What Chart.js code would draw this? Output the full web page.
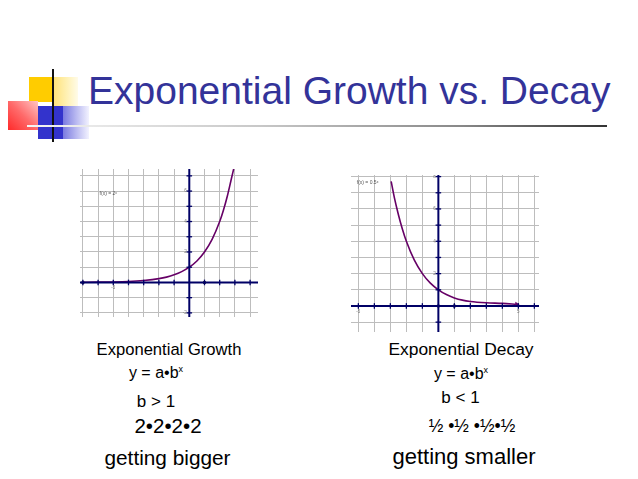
<!DOCTYPE html>
<html>
<head>
<meta charset="utf-8">
<script src="https://cdn.jsdelivr.net/npm/chart.js@4.4.1/dist/chart.umd.min.js"></script>
<style>
html,body{margin:0;padding:0;background:#fff;width:638px;height:479px;overflow:hidden;}
.box{position:absolute;}
.t{position:absolute;font-family:Arial,"Liberation Sans",sans-serif;color:#000;white-space:nowrap;line-height:1;}
.sup{position:relative;top:-6px;font-size:9px;}
</style>
</head>
<body>
<!-- title decorations -->
<div class="box" style="left:29px;top:77px;width:24px;height:25px;background:#ffcc00;"></div>
<div class="box" style="left:53px;top:77px;width:25px;height:31px;background:linear-gradient(90deg,#ffe070 0%,#fff0b0 55%,#fffbe8 100%);opacity:0.95;"></div>
<div class="box" style="left:8px;top:101px;width:30px;height:29px;background:linear-gradient(45deg,#ff2a2a 0%,#ff6a6a 50%,#ffc4c4 100%);"></div>
<div class="box" style="left:38px;top:106px;width:25px;height:33px;background:#3333cc;"></div>
<div class="box" style="left:63px;top:106px;width:26px;height:33px;background:linear-gradient(90deg,#7a7ae0 0%,#b8b8f0 50%,#f2f2ff 100%);"></div>
<div class="box" style="left:52px;top:69px;width:2px;height:73px;background:#111;"></div>
<div class="box" style="left:27px;top:124.5px;width:580px;height:2px;background:linear-gradient(90deg,#f4f4f4 0%,#c8c8c8 40%,#888 75%,#333 100%);"></div>

<div id="texts"></div>

<div class="box" style="left:80px;top:169px;width:178px;height:148px;"><canvas id="growth"></canvas></div>
<div class="box" style="left:351px;top:175px;width:188px;height:157px;"><canvas id="decay"></canvas></div>

<script>
// ---- data ----
const growthX = [-7, -6, -5, -4, -3, -2, -1.5, -1, -0.5, 0, 0.5, 1, 1.5, 2, 2.25, 2.5, 2.75, 2.92];
const growthY = [0.01, 0.02, 0.03, 0.06, 0.13, 0.25, 0.35, 0.5, 0.71, 1, 1.41, 2, 2.83, 4, 4.76, 5.66, 6.73, 7.45];
const decayX = [-2.95, -2.75, -2.5, -2.25, -2, -1.5, -1, -0.5, 0, 0.5, 1, 1.5, 2, 3, 4, 4.9];
const decayY = [7.7, 6.7, 5.66, 4.76, 4, 2.83, 2, 1.41, 1, 0.71, 0.5, 0.36, 0.28, 0.2, 0.16, 0.1];

const growthXTicks = [-7, -6, -5, -4, -3, -2, -1, 1, 2, 3, 4];
const growthYTicks = [-2, -1, 1, 2, 3, 4, 5, 6, 7];
const decayXTicks = [-5, -4, -3, -2, -1, 1, 2, 3, 4, 5, 6];
const decayYTicks = [-1, 1, 2, 3, 4, 5, 6, 7, 8];

const growthXLabels = [-5];
const growthYLabels = [-2, 2, 4, 6];
const decayXLabels = [-5, 5];
const decayYLabels = [2, 4, 6, 8];

const growthDots = [[-7, 0], [1, 0]];
const decayDots = [[0, 0], [1, 0]];

const growthFn = 'f(x) = 2ˣ';
const decayFn = 'f(x) = 0.5ˣ';

// ---- styles ----
const NAVY = '#000066';
const GRID = '#bdbdbd';
const PURPLE = '#660066';

const pts = (xs, ys) => xs.map((x, i) => ({x: x, y: ys[i]}));

const labelPlugin = {
  id: 'tinyLabels',
  afterDatasetsDraw(chart, args, o) {
    const c = chart.ctx, xs = chart.scales.x, ys = chart.scales.y;
    const x0 = xs.getPixelForValue(0), y0 = ys.getPixelForValue(0);
    c.save();
    c.fillStyle = '#7a7a7a';
    c.font = '4.5px Arial, "Liberation Sans", sans-serif';
    c.textAlign = 'center'; c.textBaseline = 'middle';
    o.xl.forEach(v => c.fillText(String(v), xs.getPixelForValue(v), y0 + 5.5));
    c.textAlign = 'right';
    o.yl.forEach(v => c.fillText(String(v), x0 - 2.5, ys.getPixelForValue(v)));
    c.font = '5px Arial, "Liberation Sans", sans-serif';
    c.fillStyle = '#555';
    c.textAlign = 'left';
    c.fillText(o.fn, xs.getPixelForValue(o.fx), ys.getPixelForValue(o.fy));
    c.restore();
  }
};

function makeChart(id, xr, yr, cx, cy, xt, yt, xl, yl, dots, fn, fx, fy, arrow) {
  const curve = pts(cx, cy);
  const datasets = [
    {data: [{x: xr[0], y: 0}, {x: xr[1], y: 0}], showLine: true, borderColor: NAVY, borderWidth: 2, pointRadius: 0},
    {data: [{x: 0, y: yr[0]}, {x: 0, y: yr[1]}], showLine: true, borderColor: NAVY, borderWidth: 2, pointRadius: 0},
    {data: xt.map(v => ({x: v, y: 0})), showLine: false, pointStyle: 'line', rotation: 90, pointRadius: 2.8, borderColor: NAVY, borderWidth: 1.3},
    {data: yt.map(v => ({x: 0, y: v})), showLine: false, pointStyle: 'line', rotation: 0, pointRadius: 2.8, borderColor: NAVY, borderWidth: 1.3},
    {data: curve, showLine: true, borderColor: PURPLE, borderWidth: 1.6, pointRadius: 0, cubicInterpolationMode: 'monotone'},
    {data: dots.map(d => ({x: d[0], y: d[1]})), showLine: false, pointRadius: 1.8, backgroundColor: '#222', borderWidth: 0}
  ];
  if (arrow) {
    datasets.push({data: [curve[curve.length - 1]], showLine: false, pointStyle: 'triangle', rotation: 90, pointRadius: 2.5, backgroundColor: PURPLE, borderColor: PURPLE, borderWidth: 0.5});
  }
  const gridOpt = {
    color: c => (c.tick && c.tick.value === 0) ? 'rgba(0,0,0,0)' : GRID,
    lineWidth: 1, drawTicks: false
  };
  return new Chart(document.getElementById(id), {
    type: 'scatter',
    data: {datasets: datasets},
    options: {
      responsive: true, maintainAspectRatio: false, animation: false, events: [],
      layout: {padding: 0, autoPadding: false},
      plugins: {legend: {display: false}, tooltip: {enabled: false},
        tinyLabels: {xl: xl, yl: yl, fn: fn, fx: fx, fy: fy}},
      scales: {
        x: {type: 'linear', min: xr[0], max: xr[1], ticks: {display: false, stepSize: 1, includeBounds: false}, grid: gridOpt, border: {display: false}},
        y: {type: 'linear', min: yr[0], max: yr[1], ticks: {display: false, stepSize: 1, includeBounds: false}, grid: gridOpt, border: {display: false}}
      }
    },
    plugins: [labelPlugin]
  });
}

makeChart('growth', [-7.19, 4.52], [-2.27, 7.45], growthX, growthY, growthXTicks, growthYTicks,
  growthXLabels, growthYLabels, growthDots, growthFn, -5.9, 5.8, false);
makeChart('decay', [-5.46, 6.29], [-1.61, 8.1], decayX, decayY, decayXTicks, decayYTicks,
  decayXLabels, decayYLabels, decayDots, decayFn, -5.1, 7.63, true);

// ---- text ----
const holder = document.getElementById('texts');
function put(html, x, base, fs, align, color) {
  const d = document.createElement('div');
  d.className = 't';
  d.innerHTML = html;
  d.style.fontSize = fs + 'px';
  d.style.top = (base - 0.8465 * fs) + 'px';
  if (color) d.style.color = color;
  holder.appendChild(d);
  const w = d.getBoundingClientRect().width;
  d.style.left = (align === 'left' ? x : x - w / 2) + 'px';
}
put('Exponential Growth vs. Decay', 88, 104, 39, 'left', '#333399');

put('Exponential Growth', 169, 356.5, 16.6);
put('y = a•b<span class="sup">x</span>', 156, 379, 16);
put('b &gt; 1', 156, 407, 17);
put('2•2•2•2', 168, 433.3, 20.5);
put('getting bigger', 167.5, 466, 20.8);

put('Exponential Decay', 461, 355.7, 17.4);
put('y = a•b<span class="sup">x</span>', 461, 379.3, 16);
put('b &lt; 1', 460.5, 403.3, 17);
put('½ •½ •½•½', 472, 432.7, 17.5);
put('getting smaller', 464, 465, 22);
</script>
</body>
</html>
